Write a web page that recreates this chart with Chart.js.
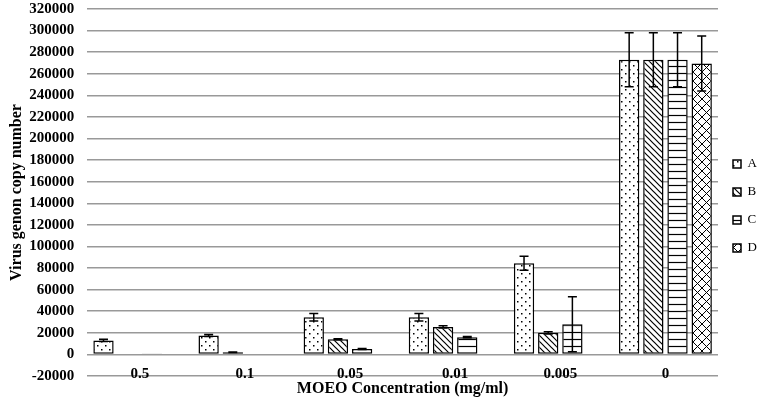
<!DOCTYPE html>
<html>
<head>
<meta charset="utf-8">
<script src="https://cdn.jsdelivr.net/npm/chart.js@4"></script>
<style>
  html, body { margin: 0; padding: 0; background: #fff; }
  #wrap { width: 765px; height: 406px; }
</style>
</head>
<body>
<div id="wrap"><canvas id="chart"></canvas></div>
<script>
// data
const categories = ['0.5', '0.1', '0.05', '0.01', '0.005', '0'];
const seriesA = [13000, 17500, 34500, 34500, 84500, 273000];
const seriesB = [null, 2000, 14000, 25500, 20000, 273000];
const seriesC = [400, 500, 5000, 16000, 28000, 273000];
const seriesD = [null, null, null, null, null, 269500];
const errA = [1000, 1000, 3500, 3500, 6500, 25000];
const errB = [0, 300, 500, 1000, 1000, 25000];
const errC = [0, 0, 500, 500, 25500, 25000];
const errD = [0, 0, 0, 0, 0, 25500];
const yTicks = { min: -20000, max: 320000, step: 20000 };

// hatch fills
function makePattern(kind) {
    const c = document.createElement('canvas');
    const s = kind === 'dots' ? 8 : (kind === 'hline' ? 7 : (kind === 'cross' ? 9 : 6));
    c.width = s; c.height = s;
    const g = c.getContext('2d');
    g.fillStyle = '#fff';
    g.fillRect(0, 0, s, s);
    g.strokeStyle = '#000';
    g.fillStyle = '#000';
    g.lineWidth = 1.2;
    if (kind === 'dots') {
        g.fillRect(1, 1, 1.5, 1.5);
        g.fillRect(5, 5, 1.5, 1.5);
    } else if (kind === 'diag') {
        g.beginPath();
        g.moveTo(0, 0); g.lineTo(s, s);
        g.moveTo(-s, 0); g.lineTo(s, 2 * s);
        g.moveTo(0, -s); g.lineTo(2 * s, s);
        g.stroke();
    } else if (kind === 'hline') {
        g.beginPath();
        g.moveTo(0, 3.5); g.lineTo(s, 3.5);
        g.stroke();
    } else if (kind === 'cross') {
        g.lineWidth = 1;
        g.beginPath();
        g.moveTo(0, 0); g.lineTo(s, s);
        g.moveTo(s, 0); g.lineTo(0, s);
        g.stroke();
    }
    return g.createPattern(c, 'repeat');
}

const errorBars = {
    id: 'errorBars',
    afterDatasetsDraw(chart) {
        const ctx = chart.ctx;
        const y = chart.scales.y;
        const errs = [errA, errB, errC, errD];
        ctx.save();
        ctx.strokeStyle = '#000';
        ctx.lineWidth = 1.5;
        chart.data.datasets.forEach((ds, di) => {
            const meta = chart.getDatasetMeta(di);
            meta.data.forEach((bar, i) => {
                const v = ds.data[i];
                const e = errs[di][i];
                if (v == null || !e) return;
                const x = bar.x;
                const top = y.getPixelForValue(v + e);
                const bot = y.getPixelForValue(v - e);
                ctx.beginPath();
                ctx.moveTo(x, top); ctx.lineTo(x, bot);
                ctx.moveTo(x - 4.5, top); ctx.lineTo(x + 4.5, top);
                ctx.moveTo(x - 4.5, bot); ctx.lineTo(x + 4.5, bot);
                ctx.stroke();
            });
        });
        ctx.restore();
    }
};

const serif = 'Liberation Serif';
const common = { borderColor: '#000', borderWidth: 1.5, borderSkipped: false, categoryPercentage: 0.92, barPercentage: 0.84 };

new Chart(document.getElementById('chart'), {
    type: 'bar',
    data: {
        labels: categories,
        datasets: [
            Object.assign({ label: 'A', data: seriesA, backgroundColor: makePattern('dots') }, common),
            Object.assign({ label: 'B', data: seriesB, backgroundColor: makePattern('diag') }, common),
            Object.assign({ label: 'C', data: seriesC, backgroundColor: makePattern('hline') }, common),
            Object.assign({ label: 'D', data: seriesD, backgroundColor: makePattern('cross') }, common)
        ]
    },
    options: {
        responsive: true,
        maintainAspectRatio: false,
        animation: false,
        layout: { padding: { top: 0, right: 0, bottom: 0, left: 7 } },
        plugins: {
            tooltip: { enabled: false },
            legend: {
                position: 'right',
                maxWidth: 47,
                title: { display: true, text: '', font: { size: 5 }, padding: 0 },
                labels: {
                    color: '#000',
                    font: { family: serif, size: 13 },
                    boxWidth: 8,
                    boxHeight: 8,
                    padding: 15
                }
            }
        },
        scales: {
            x: {
                grid: { display: false, drawTicks: false },
                border: { display: false },
                ticks: { color: '#000', mirror: true, padding: -5.5, font: { family: serif, size: 15, weight: 'bold', lineHeight: 1 } },
                title: { display: true, text: 'MOEO Concentration (mg/ml)', color: '#000', padding: { top: 14.4, bottom: 7.4 }, font: { family: serif, size: 16, weight: 'bold' } }
            },
            y: {
                min: yTicks.min,
                max: yTicks.max,
                ticks: { stepSize: yTicks.step, color: '#000', padding: 0, callback: v => String(v), font: { family: serif, size: 15, weight: 'bold' } },
                grid: { color: '#999', lineWidth: 1.5, drawTicks: true, tickLength: 13, tickColor: 'rgba(0,0,0,0)' },
                border: { display: false },
                title: { display: true, text: 'Virus genon copy number', color: '#000', padding: { top: 0, bottom: 3 }, font: { family: serif, size: 16, weight: 'bold' } }
            }
        }
    },
    plugins: [errorBars]
});
</script>
</body>
</html>
